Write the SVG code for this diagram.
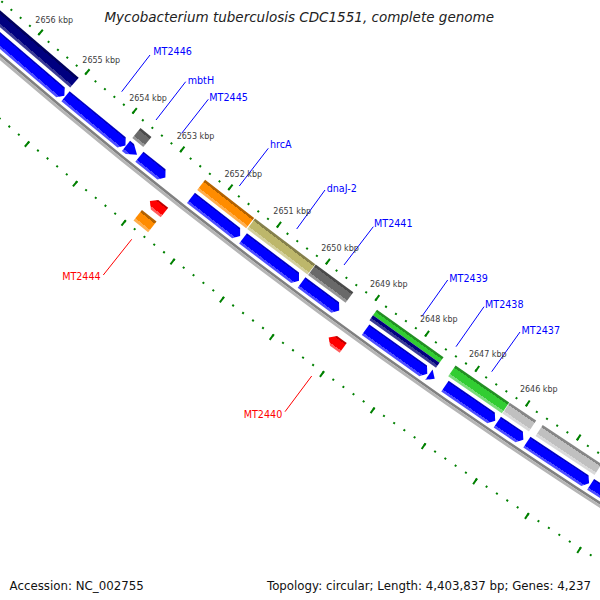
<svg xmlns="http://www.w3.org/2000/svg" width="600" height="600" viewBox="0 0 600 600">
<style>
text{font-family:"DejaVu Sans","Liberation Sans",sans-serif}
.tl{font-size:8px;fill:#3c3c3c;text-anchor:middle}
.gl{font-size:9.6px;fill:#0000ff}
.rl{font-size:9.6px;fill:#ff0000;text-anchor:end}
.lb{stroke:#0000ff;stroke-width:1;fill:none}
.lr{stroke:#ff0000;stroke-width:1;fill:none}
.tk{fill:none;stroke:#008000}
.fb{fill:url(#gBlue)}
.fr{fill:url(#gRed)}
</style>
<defs>
<linearGradient id="gNavy" gradientUnits="userSpaceOnUse" x1="5464.5" y1="0" x2="5477.5" y2="0"><stop offset="0" stop-color="#00005c"/><stop offset=".2" stop-color="#00005c"/><stop offset=".2" stop-color="#000080"/><stop offset=".78" stop-color="#000080"/><stop offset=".78" stop-color="#3a3a96"/><stop offset="1" stop-color="#3a3a96"/></linearGradient>
<linearGradient id="gDim" gradientUnits="userSpaceOnUse" x1="5464.5" y1="0" x2="5477.5" y2="0"><stop offset="0" stop-color="#4a4a4a"/><stop offset=".2" stop-color="#4a4a4a"/><stop offset=".2" stop-color="#696969"/><stop offset=".78" stop-color="#696969"/><stop offset=".78" stop-color="#969696"/><stop offset="1" stop-color="#969696"/></linearGradient>
<linearGradient id="gOrange" gradientUnits="userSpaceOnUse" x1="5464.5" y1="0" x2="5477.5" y2="0"><stop offset="0" stop-color="#b36200"/><stop offset=".2" stop-color="#b36200"/><stop offset=".2" stop-color="#ff8c00"/><stop offset=".78" stop-color="#ff8c00"/><stop offset=".78" stop-color="#ffae4d"/><stop offset="1" stop-color="#ffae4d"/></linearGradient>
<linearGradient id="gKhaki" gradientUnits="userSpaceOnUse" x1="5464.5" y1="0" x2="5477.5" y2="0"><stop offset="0" stop-color="#85804b"/><stop offset=".2" stop-color="#85804b"/><stop offset=".2" stop-color="#bdb76b"/><stop offset=".78" stop-color="#bdb76b"/><stop offset=".78" stop-color="#d3cf9c"/><stop offset="1" stop-color="#d3cf9c"/></linearGradient>
<linearGradient id="gGreen" gradientUnits="userSpaceOnUse" x1="5464.5" y1="0" x2="5477.5" y2="0"><stop offset="0" stop-color="#238f23"/><stop offset=".2" stop-color="#238f23"/><stop offset=".2" stop-color="#32cd32"/><stop offset=".78" stop-color="#32cd32"/><stop offset=".78" stop-color="#7adc7a"/><stop offset="1" stop-color="#7adc7a"/></linearGradient>
<linearGradient id="gSilver" gradientUnits="userSpaceOnUse" x1="5464.5" y1="0" x2="5477.5" y2="0"><stop offset="0" stop-color="#878787"/><stop offset=".2" stop-color="#878787"/><stop offset=".2" stop-color="#c0c0c0"/><stop offset=".78" stop-color="#c0c0c0"/><stop offset=".78" stop-color="#d9d9d9"/><stop offset="1" stop-color="#d9d9d9"/></linearGradient>
<linearGradient id="gBlue" gradientUnits="userSpaceOnUse" x1="5481" y1="0" x2="5494" y2="0"><stop offset="0" stop-color="#0000c0"/><stop offset=".12" stop-color="#0000c0"/><stop offset=".12" stop-color="#0000ff"/><stop offset=".8" stop-color="#0000ff"/><stop offset=".8" stop-color="#4d4dff"/><stop offset="1" stop-color="#4d4dff"/></linearGradient>
<linearGradient id="gRed" gradientUnits="userSpaceOnUse" x1="5509.5" y1="0" x2="5521.5" y2="0"><stop offset="0" stop-color="#c00000"/><stop offset=".15" stop-color="#c00000"/><stop offset=".15" stop-color="#ff0000"/><stop offset=".78" stop-color="#ff0000"/><stop offset=".78" stop-color="#ff5c5c"/><stop offset="1" stop-color="#ff5c5c"/></linearGradient>
<linearGradient id="gOrange2" gradientUnits="userSpaceOnUse" x1="5527.5" y1="0" x2="5541" y2="0"><stop offset="0" stop-color="#b36200"/><stop offset=".2" stop-color="#b36200"/><stop offset=".2" stop-color="#ff8c00"/><stop offset=".78" stop-color="#ff8c00"/><stop offset=".78" stop-color="#ffae4d"/><stop offset="1" stop-color="#ffae4d"/></linearGradient>
</defs>
<rect width="600" height="600" fill="#ffffff"/>
<g id="map" transform="translate(3584,-4115)">
<g id="ticks">
<path class="tk" stroke-width="2" stroke-dasharray="2 10.25964" stroke-dashoffset="5.2905" d="M-2728.5 4725.9006A5457 5457 0 0 1 -3858.6817 3858.6817"/>
<path class="tk" stroke-width="7" stroke-dasharray="2 59.27569" stroke-dashoffset="42.0537" d="M-2727.5 4724.1686A5455 5455 0 0 1 -3857.2675 3857.2675"/>
<path class="tk" stroke-width="2" stroke-dasharray="2 10.461835" stroke-dashoffset="5.3614" d="M-2773.5 4803.8429A5547 5547 0 0 1 -3922.3213 3922.3213"/>
<path class="tk" stroke-width="7" stroke-dasharray="2 60.33158" stroke-dashoffset="42.7611" d="M-2774.5 4805.5749A5549 5549 0 0 1 -3923.7355 3923.7355"/>
</g>
<g id="backbone">
<circle cx="0" cy="0" r="5498.3" fill="none" stroke="#808080" stroke-width="2.6"/>
<circle cx="0" cy="0" r="5501" fill="none" stroke="#b5b5b5" stroke-width="2.8"/>
</g>
<g id="cog-forward">
<g id="MT2447-cog" transform="rotate(130.6226)"><rect x="5464.5" y="-69.15" width="13" height="138.3" fill="url(#gNavy)"/></g>
<g id="mbtH-cog" transform="rotate(128.9879)"><rect x="5464.5" y="-7.065" width="13" height="14.13" fill="url(#gDim)"/></g>
<g id="hrcA-cog" transform="rotate(127.868)"><rect x="5464.5" y="-31.035" width="13" height="62.07" fill="url(#gOrange)"/></g>
<g id="dnaJ-2-cog" transform="rotate(127.1343)"><rect x="5464.5" y="-37.795" width="13" height="75.59" fill="url(#gKhaki)"/></g>
<g id="MT2441-cog" transform="rotate(126.4875)"><rect x="5464.5" y="-23.355" width="13" height="46.71" fill="url(#gDim)"/></g>
<g id="MT2439-cog" transform="rotate(125.506)"><rect x="5464.5" y="-40.87" width="7" height="81.74" fill="url(#gGreen)"/><rect x="5471.5" y="-40.87" width="6" height="81.74" fill="url(#gNavy)"/></g>
<g id="MT2438-cog" transform="rotate(124.5824)"><rect x="5464.5" y="-32.57" width="13" height="65.14" fill="url(#gGreen)"/></g>
<g id="MT2437-cog" transform="rotate(124.0676)"><rect x="5464.5" y="-15.98" width="13" height="31.96" fill="url(#gSilver)"/></g>
<g id="MT2436-cog" transform="rotate(123.4465)"><rect x="5464.5" y="-35.335" width="13" height="70.67" fill="url(#gSilver)"/></g>
</g>
<g id="cds-forward">
<g id="MT2447" transform="rotate(130.6194)"><path class="fb" d="M5481 69.65V-64.65L5487.5 -69.65 5494 -64.65V69.65Z"/></g>
<g id="MT2446" transform="rotate(129.4738)"><path class="fb" d="M5481 38.83V-33.83L5487.5 -38.83 5494 -33.83V38.83Z"/></g>
<g id="mbtH" transform="rotate(128.9879)"><path class="fb" d="M5481 7.09V2.09L5487.5 -7.09 5494 2.09V7.09Z"/></g>
<g id="MT2445" transform="rotate(128.7079)"><path class="fb" d="M5481 16.64V-11.64L5487.5 -16.64 5494 -11.64V16.64Z"/></g>
<g id="hrcA" transform="rotate(127.868)"><path class="fb" d="M5481 31.125V-26.125L5487.5 -31.125 5494 -26.125V31.125Z"/></g>
<g id="dnaJ-2" transform="rotate(127.1375)"><path class="fb" d="M5481 35.13V-30.13L5487.5 -35.13 5494 -30.13V35.13Z"/></g>
<g id="MT2441" transform="rotate(126.4939)"><path class="fb" d="M5481 23.42V-18.42L5487.5 -23.42 5494 -18.42V23.42Z"/></g>
<g id="MT2439" transform="rotate(125.5125)"><path class="fb" d="M5481 37.905V-32.905L5487.5 -37.905 5494 -32.905V37.905Z"/></g>
<g id="MT2439a" transform="rotate(125.0603)"><path class="fb" d="M5481 3.55L5487.5 -3.55 5494 3.55Z"/></g>
<g id="MT2438" transform="rotate(124.5728)"><path class="fb" d="M5481 30.51V-25.51L5487.5 -30.51 5494 -25.51V30.51Z"/></g>
<g id="MT2437" transform="rotate(124.0644)"><path class="fb" d="M5481 15.715V-10.715L5487.5 -15.715 5494 -10.715V15.715Z"/></g>
<g id="MT2436" transform="rotate(123.4658)"><path class="fb" d="M5481 37.29V-32.29L5487.5 -37.29 5494 -32.29V37.29Z"/></g>
<g id="MT2435" transform="rotate(122.6002)"><path class="fb" d="M5481 43.75V-38.75L5487.5 -43.75 5494 -38.75V43.75Z"/></g>
</g>
<g id="cds-reverse">
<g id="MT2444" transform="rotate(128.4119)"><path class="fr" d="M5509.5 -9.3V3.3L5515.5 9.3 5521.5 3.3V-9.3Z"/></g>
<g id="MT2440" transform="rotate(126.0788)"><path class="fr" d="M5509.5 -8.985V2.985L5515.5 8.985 5521.5 2.985V-8.985Z"/></g>
</g>
<g id="cog-reverse">
<g id="MT2444-cog" transform="rotate(128.4183)"><rect x="5527.5" y="-9.325" width="13.5" height="18.65" fill="url(#gOrange2)"/></g>
</g>
</g>
<g id="connectors">
<path class="lb" d="M150 55L121.7 91.7"/>
<path class="lb" d="M185.7 81.7L156 120"/>
<path class="lb" d="M208.3 99.3L181.7 133.3"/>
<path class="lb" d="M268.3 148.3L239.3 186"/>
<path class="lb" d="M325 190L296.7 229"/>
<path class="lb" d="M373.3 226.7L344 265"/>
<path class="lb" d="M447.7 280L421.7 316.7"/>
<path class="lb" d="M484 306.7L456 346.7"/>
<path class="lb" d="M520 332L491.7 371.7"/>
<path class="lr" d="M103.3 275L131.7 239.3"/>
<path class="lr" d="M285 411.7L311.7 376"/>
</g>
<g id="tick-labels">
<text class="tl" x="54.2" y="22.5">2656 kbp</text>
<text class="tl" x="101.2" y="62.5">2655 kbp</text>
<text class="tl" x="148" y="101">2654 kbp</text>
<text class="tl" x="195.5" y="139">2653 kbp</text>
<text class="tl" x="243.3" y="177.3">2652 kbp</text>
<text class="tl" x="292.2" y="214">2651 kbp</text>
<text class="tl" x="340" y="251">2650 kbp</text>
<text class="tl" x="388.8" y="287">2649 kbp</text>
<text class="tl" x="438.8" y="322">2648 kbp</text>
<text class="tl" x="487.8" y="356.7">2647 kbp</text>
<text class="tl" x="538.8" y="391.7">2646 kbp</text>
</g>
<g id="labels">
<text class="gl" x="153.3" y="55">MT2446</text>
<text class="gl" x="187.7" y="83.5">mbtH</text>
<text class="gl" x="209.3" y="100.5">MT2445</text>
<text class="gl" x="270" y="148">hrcA</text>
<text class="gl" x="326.7" y="192">dnaJ-2</text>
<text class="gl" x="374" y="226.5">MT2441</text>
<text class="gl" x="449.3" y="281.5">MT2439</text>
<text class="gl" x="485" y="308">MT2438</text>
<text class="gl" x="521.5" y="333.5">MT2437</text>
<text class="rl" x="100.7" y="280">MT2444</text>
<text class="rl" x="282.3" y="418">MT2440</text>
</g>
<text x="299.2" y="21.5" font-size="13.5" font-style="italic" fill="#222" text-anchor="middle">Mycobacterium tuberculosis CDC1551, complete genome</text>
<text x="9.6" y="590" font-size="11.8" fill="#111">Accession: NC_002755</text>
<text x="591" y="590" font-size="11.8" fill="#111" text-anchor="end">Topology: circular; Length: 4,403,837 bp; Genes: 4,237</text>
</svg>
